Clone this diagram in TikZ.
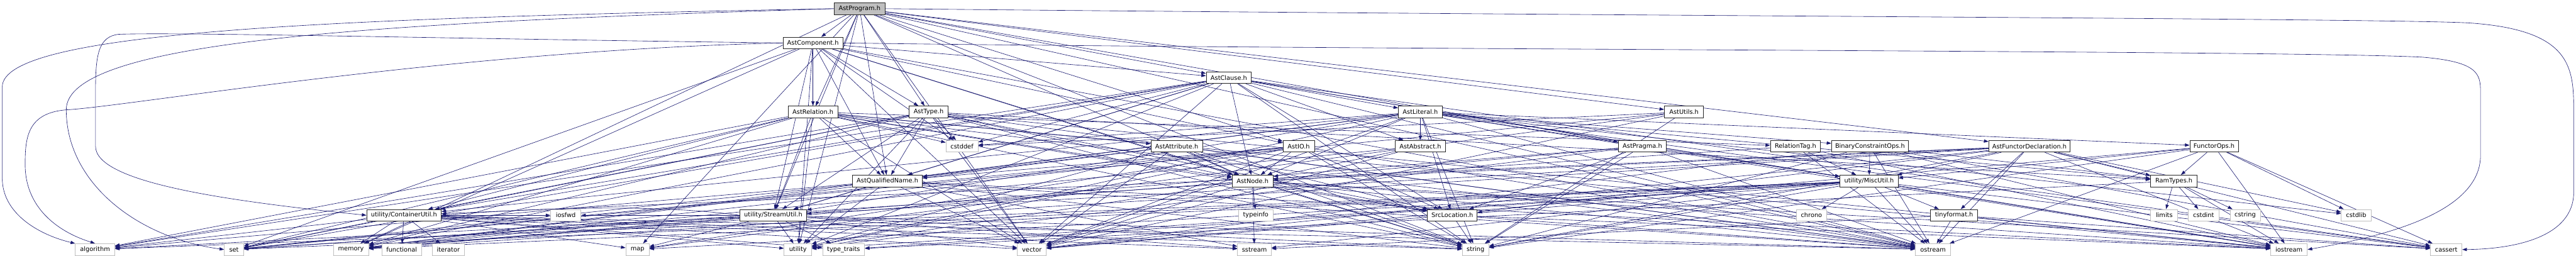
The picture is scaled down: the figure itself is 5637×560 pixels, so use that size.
\documentclass[tikz,border=0pt]{standalone}
\usepackage{fontspec}
\setmainfont{DejaVu Sans}
\usetikzlibrary{arrows.meta}
\pgfdeclarelayer{bg}
\pgfsetlayers{bg,main}
\definecolor{edgeblue}{HTML}{191970}
\definecolor{sysgray}{HTML}{BFBFBF}
\definecolor{topfill}{HTML}{BFBFBF}
\tikzset{
  hdr/.style={draw=black!85, line width=1.2pt, fill=white, minimum height=25.5pt,
    inner sep=0pt, font=\fontsize{13.5}{16}\selectfont, text=black},
  sys/.style={hdr, draw=sysgray},
  edg/.style={draw=edgeblue, line width=0.85pt, -{Triangle[length=10pt,width=7pt]}, fill=none}
}
\begin{document}
\begin{tikzpicture}[x=1pt,y=-1pt]
\useasboundingbox (0,0) rectangle (5637,560);
% row 0
\node[hdr, fill=topfill, minimum width=112pt] (P) at (1881,19) {AstProgram.h};
% row 1
\node[hdr, minimum width=131pt] (C) at (1779,94) {AstComponent.h};
% row 2
\node[hdr, minimum width=99pt] (Cl) at (2689,170) {AstClause.h};
% row 3
\node[hdr, minimum width=109pt] (R) at (1779,245) {AstRelation.h};
\node[hdr, minimum width=85pt] (T) at (2032,245) {AstType.h};
\node[hdr, minimum width=96pt] (L) at (3108,245) {AstLiteral.h};
\node[hdr, minimum width=86pt] (U) at (3685,245) {AstUtils.h};
% row 4
\node[sys, minimum width=70pt] (cstddef) at (2105,320) {cstddef};
\node[hdr, minimum width=113pt] (A) at (2575,320) {AstAttribute.h};
\node[hdr, minimum width=69pt] (IO) at (2842,320) {AstIO.h};
\node[hdr, minimum width=109pt] (Ab) at (3108,320) {AstAbstract.h};
\node[hdr, minimum width=105pt] (Pr) at (3594,320) {AstPragma.h};
\node[hdr, minimum width=110pt] (RTag) at (3929,320) {RelationTag.h};
\node[hdr, minimum width=168pt] (BCO) at (4092,320) {BinaryConstraintOps.h};
\node[hdr, minimum width=178pt] (FD) at (4441,320) {AstFunctorDeclaration.h};
\node[hdr, minimum width=106pt] (FO) at (4845,320) {FunctorOps.h};
% row 5
\node[hdr, minimum width=152pt] (QN) at (1942,396) {AstQualifiedName.h};
\node[hdr, minimum width=90pt] (N) at (2741,396) {AstNode.h};
\node[hdr, minimum width=127pt] (MU) at (4090,396) {utility/MiscUtil.h};
\node[hdr, minimum width=102pt] (RT) at (4757,396) {RamTypes.h};
% row 6
\node[hdr, minimum width=163pt] (CU) at (884,471) {utility/ContainerUtil.h};
\node[sys, minimum width=66pt] (iosfwd) at (1238,471) {iosfwd};
\node[hdr, minimum width=146pt] (SU) at (1692,471) {utility/StreamUtil.h};
\node[sys, minimum width=76pt] (typeinfo) at (2748,471) {typeinfo};
\node[hdr, minimum width=109pt] (SL) at (3178,471) {SrcLocation.h};
\node[sys, minimum width=66pt] (chrono) at (3964,471) {chrono};
\node[hdr, minimum width=103pt] (TF) at (4276,471) {tinyformat.h};
\node[sys, minimum width=59pt] (limits) at (4736,471) {limits};
\node[sys, minimum width=67pt] (cstdint) at (4822,471) {cstdint};
\node[sys, minimum width=66pt] (cstring) at (4913,471) {cstring};
\node[sys, minimum width=65pt] (cstdlib) at (5156,471) {cstdlib};
% row 7
\node[sys, minimum width=86pt] (algorithm) at (208,546) {algorithm};
\node[sys, minimum width=42pt] (set) at (512,546) {set};
\node[sys, minimum width=77pt] (memory) at (768,546) {memory};
\node[sys, minimum width=87pt] (functional) at (879,546) {functional};
\node[sys, minimum width=71pt] (iterator) at (981,546) {iterator};
\node[sys, minimum width=51pt] (map) at (1395,546) {map};
\node[sys, minimum width=60pt] (utility) at (1746,546) {utility};
\node[sys, minimum width=92pt] (typetraits) at (1846,546) {type\_traits};
\node[sys, minimum width=63pt] (vector) at (2258,546) {vector};
\node[sys, minimum width=74pt] (sstream) at (2745,546) {sstream};
\node[sys, minimum width=58pt] (string) at (3229,546) {string};
\node[sys, minimum width=77pt] (ostream) at (4230,546) {ostream};
\node[sys, minimum width=80pt] (iostream) at (5009,546) {iostream};
\node[sys, minimum width=69pt] (cassert) at (5353,546) {cassert};

\begin{pgfonlayer}{bg}
\foreach \tg in {C,R,Cl,IO,Pr,U,FD,N,QN,T,SU,map,memory,ostream,string,utility,vector} \draw[edg] (P) -- (\tg);
\foreach \tg in {R,T,Cl,IO,N,QN,SU,memory,ostream,set,string,utility,vector,cstddef} \draw[edg] (C) -- (\tg);
\foreach \tg in {A,N,QN,RTag,SL,CU,SU,algorithm,cstddef,iostream,memory,set,string,utility,vector,ostream} \draw[edg] (R) -- (\tg);
\foreach \tg in {N,QN,RT,SL,CU,SU,algorithm,cstddef,iostream,memory,set,string,utility,vector,ostream} \draw[edg] (T) -- (\tg);
\foreach \tg in {L,Ab,N,QN,SL,CU,MU,SU,algorithm,cstddef,memory,ostream,string,utility,vector,iostream,set,cassert} \draw[edg] (Cl) -- (\tg);
\foreach \tg in {Ab,N,QN,BCO,FO,RT,SL,CU,MU,SU,cassert,cstddef,iostream,memory,string,utility,vector,ostream,cstdlib} \draw[edg] (L) -- (\tg);
\foreach \tg in {cstddef,map,set,string,vector} \draw[edg] (U) -- (\tg);
\foreach \tg in {N,memory,vector} \draw[edg] (Ab) -- (\tg);
\foreach \tg in {N,QN,SL,memory,string,utility,vector,ostream} \draw[edg] (A) -- (\tg);
\foreach \tg in {N,QN,SL,map,ostream,string,utility,vector,memory,set} \draw[edg] (IO) -- (\tg);
\foreach \tg in {N,SL,ostream,string,utility,memory} \draw[edg] (Pr) -- (\tg);
\foreach \tg in {N,RT,SL,TF,MU,CU,SU,cassert,cstdlib,iostream,memory,ostream,string,vector} \draw[edg] (FD) -- (\tg);
\foreach \tg in {RT,MU,cassert,cstdlib,iostream,string,vector,ostream} \draw[edg] (FO) -- (\tg);
\foreach \tg in {limits,cstdint,cstring,iostream,typetraits} \draw[edg] (RT) -- (\tg);
\foreach \tg in {TF,chrono,cassert,iostream,map,memory,typetraits,utility,algorithm,sstream,string,vector,ostream,set} \draw[edg] (MU) -- (\tg);
\foreach \tg in {cassert,iostream,sstream,ostream} \draw[edg] (TF) -- (\tg);
\foreach \tg in {MU,iostream,set,ostream} \draw[edg] (RTag) -- (\tg);
\foreach \tg in {MU,RT,cassert,iostream,string,vector,ostream} \draw[edg] (BCO) -- (\tg);
\foreach \tg in {SL,typeinfo,iostream,memory,string,vector,sstream,cassert,utility,ostream} \draw[edg] (N) -- (\tg);
\foreach \tg in {SU,algorithm,iostream,string,utility,vector,ostream,sstream,set} \draw[edg] (QN) -- (\tg);
\foreach \tg in {string,ostream,iostream} \draw[edg] (SL) -- (\tg);
\foreach \tg in {memory,functional,iterator,algorithm,map,set,utility,vector,typetraits,iosfwd,ostream,sstream,string} \draw[edg] (CU) -- (\tg);
\foreach \tg in {iosfwd,map,memory,ostream,set,string,utility,vector,typetraits,sstream,algorithm} \draw[edg] (SU) -- (\tg);
% curved long edges
\draw[edg] (P.west) .. controls (700,40) and (5,70) .. (5,190) -- (5,390) .. controls (5,470) and (90,515) .. (algorithm.north west);
\draw[edg] (C.west) .. controls (1000,110) and (300,230) .. (150,240) .. controls (60,245) and (55,300) .. (55,360) .. controls (55,450) and (120,505) .. (algorithm.north);
\draw[edg] (P.west) .. controls (800,50) and (145,90) .. (145,240) .. controls (145,400) and (300,520) .. (set.west);
\draw[edg] (C.west) .. controls (1000,85) and (400,70) .. (260,75) .. controls (215,80) and (209,120) .. (209,200) -- (209,320) .. controls (209,400) and (500,440) .. (CU.west);
\draw[edg] (SU.west) .. controls +(-200,-28) and +(150,-12) .. (CU.east);
\draw[edg] (P.east) .. controls (3500,35) and (5200,40) .. (5400,50) .. controls (5632,65) and (5632,150) .. (5632,250) -- (5632,420) .. controls (5632,520) and (5500,545) .. (cassert.east);
\draw[edg] (C.east) .. controls (3000,110) and (5000,110) .. (5300,125) .. controls (5420,135) and (5428,160) .. (5428,200) -- (5428,340) .. controls (5428,470) and (5200,520) .. (iostream.east);
\end{pgfonlayer}
\end{tikzpicture}
\end{document}
